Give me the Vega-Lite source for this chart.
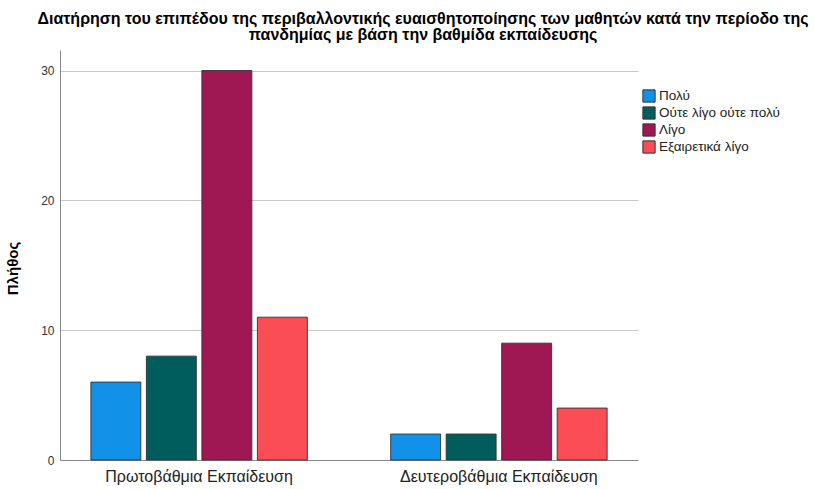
{
  "$schema": "https://vega.github.io/schema/vega-lite/v6.json",
  "width": 578,
  "height": 410,
  "autosize": {"type": "none"},
  "padding": {"left": 60, "top": 50, "right": 176, "bottom": 29},
  "background": "white",
  "title": {
    "text": ["Διατήρηση του επιπέδου της περιβαλλοντικής ευαισθητοποίησης των μαθητών κατά την περίοδο της", "πανδημίας με βάση την βαθμίδα εκπαίδευσης"],
    "anchor": "middle",
    "frame": "group",
    "dx": 74,
    "offset": 7,
    "font": "Liberation Sans",
    "fontSize": 16,
    "fontWeight": "bold",
    "color": "#000000",
    "lineHeight": 16
  },
  "config": {
    "view": {"stroke": null},
    "font": "Liberation Sans"
  },
  "data": {
    "values": [
      {"level": "Πρωτοβάθμια Εκπαίδευση", "answer": "Πολύ", "count": 6},
      {"level": "Πρωτοβάθμια Εκπαίδευση", "answer": "Ούτε λίγο ούτε πολύ", "count": 8},
      {"level": "Πρωτοβάθμια Εκπαίδευση", "answer": "Λίγο", "count": 30},
      {"level": "Πρωτοβάθμια Εκπαίδευση", "answer": "Εξαιρετικά λίγο", "count": 11},
      {"level": "Δευτεροβάθμια Εκπαίδευση", "answer": "Πολύ", "count": 2},
      {"level": "Δευτεροβάθμια Εκπαίδευση", "answer": "Ούτε λίγο ούτε πολύ", "count": 2},
      {"level": "Δευτεροβάθμια Εκπαίδευση", "answer": "Λίγο", "count": 9},
      {"level": "Δευτεροβάθμια Εκπαίδευση", "answer": "Εξαιρετικά λίγο", "count": 4}
    ]
  },
  "mark": {"type": "bar", "stroke": "#333333", "strokeWidth": 1, "strokeOpacity": 0.9},
  "encoding": {
    "x": {
      "field": "level",
      "type": "nominal",
      "sort": ["Πρωτοβάθμια Εκπαίδευση", "Δευτεροβάθμια Εκπαίδευση"],
      "scale": {"paddingInner": 0.278, "paddingOuter": 0.103},
      "axis": {
        "title": null,
        "labelAngle": 0,
        "labelFontSize": 16,
        "labelLimit": 0,
        "labelColor": "#222222",
        "labelPadding": 8,
        "ticks": false,
        "domainColor": "#888888",
        "domainWidth": 1
      }
    },
    "xOffset": {
      "field": "answer",
      "type": "nominal",
      "sort": ["Πολύ", "Ούτε λίγο ούτε πολύ", "Λίγο", "Εξαιρετικά λίγο"],
      "scale": {"paddingInner": 0.1, "paddingOuter": 0}
    },
    "y": {
      "field": "count",
      "type": "quantitative",
      "scale": {"domain": [0, 31.58], "nice": false},
      "axis": {
        "title": "Πλήθος",
        "titleFontSize": 15,
        "titleFontWeight": "bold",
        "titleColor": "#000000",
        "titleX": -40,
        "titleY": 218,
        "values": [0, 10, 20, 30],
        "labelFontSize": 12,
        "labelColor": "#333333",
        "labelPadding": 6,
        "ticks": false,
        "grid": true,
        "gridColor": "#c8c8c8",
        "gridWidth": 1.2,
        "domainColor": "#888888",
        "domainWidth": 1
      }
    },
    "color": {
      "field": "answer",
      "type": "nominal",
      "sort": ["Πολύ", "Ούτε λίγο ούτε πολύ", "Λίγο", "Εξαιρετικά λίγο"],
      "scale": {
        "domain": ["Πολύ", "Ούτε λίγο ούτε πολύ", "Λίγο", "Εξαιρετικά λίγο"],
        "range": ["#1192e8", "#005d5d", "#9f1853", "#fa4d56"]
      },
      "legend": {
        "title": null,
        "orient": "none",
        "legendX": 582,
        "legendY": 39,
        "symbolType": "square",
        "symbolSize": 150,
        "symbolStrokeColor": "#333333",
        "symbolStrokeWidth": 1,
        "symbolOpacity": 1,
        "labelFontSize": 13.5,
        "labelColor": "#222222",
        "labelOffset": 3,
        "rowPadding": -1
      }
    }
  }
}
